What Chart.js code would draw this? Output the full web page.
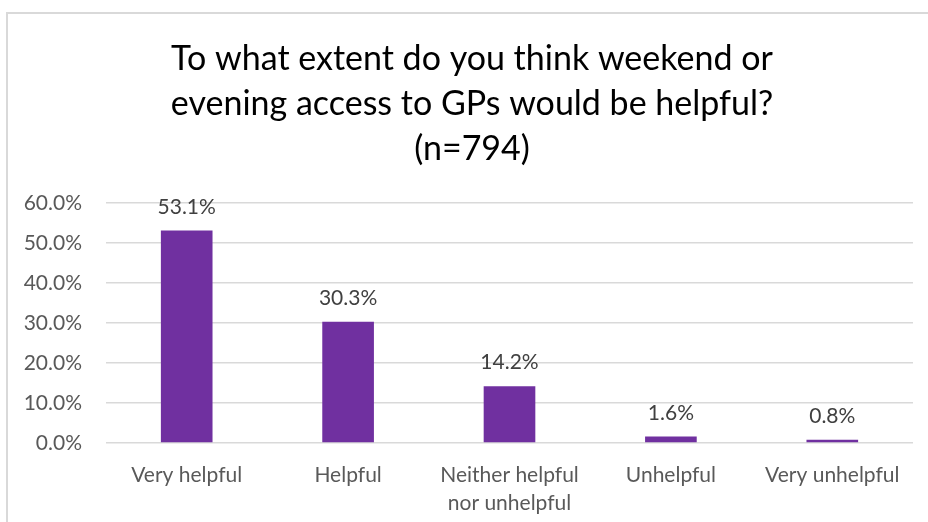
<!DOCTYPE html>
<html>
<head>
<meta charset="utf-8">
<script src="https://cdn.jsdelivr.net/npm/chart.js@4.4.1/dist/chart.umd.min.js"></script>
<style>
  html, body { margin: 0; padding: 0; background: #fff; overflow: hidden; }
  #wrap { position: relative; width: 928px; height: 522px; }
  #frame { position: absolute; left: 6px; top: 12px; width: 1000px; height: 1000px; border: 2px solid #d9d9d9; }
  #chart { position: absolute; left: 0; top: 0; }
</style>
</head>
<body>
<div id="wrap">
  <div id="frame"></div>
  <canvas id="chart" width="928" height="522"></canvas>
</div>
<script>
// Câu hỏi khảo sát và kết quả (%)
const titleLines = [
    'To what extent do you think weekend or',
    'evening access to GPs would be helpful?',
    '(n=794)'
];
const categories = [
    'Very helpful',
    'Helpful',
    ['Neither helpful', 'nor unhelpful'],
    'Unhelpful',
    'Very unhelpful'
];
const percentages = [53.1, 30.3, 14.2, 1.6, 0.8];
const yTicks = [0, 10, 20, 30, 40, 50, 60];

const fontFamily = 'Lato, "Open Sans", sans-serif';

// Ghi giá trị phía trên mỗi cột
const barLabels = {
    id: 'barLabels',
    afterDatasetsDraw(chart) {
        const ctx = chart.ctx;
        const meta = chart.getDatasetMeta(0);
        ctx.save();
        ctx.font = '21px ' + fontFamily;
        ctx.fillStyle = '#404040';
        ctx.textAlign = 'center';
        ctx.textBaseline = 'alphabetic';
        meta.data.forEach((bar, i) => {
            ctx.fillText(percentages[i].toFixed(1) + '%', bar.x, bar.y - 17);
        });
        ctx.restore();
    }
};

// Tiêu đề căn giữa theo khung biểu đồ (lệch phải một chút)
const titleShift = {
    id: 'titleShift',
    afterLayout(chart) {
        if (chart.titleBlock) chart.titleBlock.left += 31;
    }
};

const ctx = document.getElementById('chart').getContext('2d');
const chart = new Chart(ctx, {
    type: 'bar',
    data: {
        labels: categories,
        datasets: [{
            data: percentages,
            backgroundColor: '#7030a0',
            borderWidth: 0,
            barPercentage: 0.32,
            categoryPercentage: 1
        }]
    },
    options: {
        responsive: false,
        animation: false,
        layout: { padding: { left: 0, right: 15, top: 0, bottom: 0 } },
        plugins: {
            legend: { display: false },
            tooltip: { enabled: false },
            title: {
                display: true,
                text: titleLines,
                color: '#000',
                font: { family: fontFamily, size: 34, weight: 'normal', lineHeight: '45px' },
                padding: { top: 36.5, bottom: 31.5 }
            }
        },
        scales: {
            x: {
                grid: { display: false, drawTicks: false },
                border: { display: false },
                ticks: {
                    color: '#595959',
                    font: { family: fontFamily, size: 21, lineHeight: '28px' },
                    padding: 18,
                    maxRotation: 0,
                    autoSkip: false
                },
                afterFit: (scale) => { scale.height = 79; }
            },
            y: {
                min: 0,
                max: 60,
                afterBuildTicks: (scale) => { scale.ticks = yTicks.map(v => ({ value: v })); },
                grid: { color: '#d9d9d9', lineWidth: 1.5, drawTicks: false },
                border: { display: false },
                ticks: {
                    color: '#595959',
                    font: { family: fontFamily, size: 21 },
                    padding: 24,
                    callback: (v) => v.toFixed(1) + '%'
                },
                afterFit: (scale) => { scale.width = 106; }
            }
        }
    },
    plugins: [barLabels, titleShift]
});
</script>
</body>
</html>
